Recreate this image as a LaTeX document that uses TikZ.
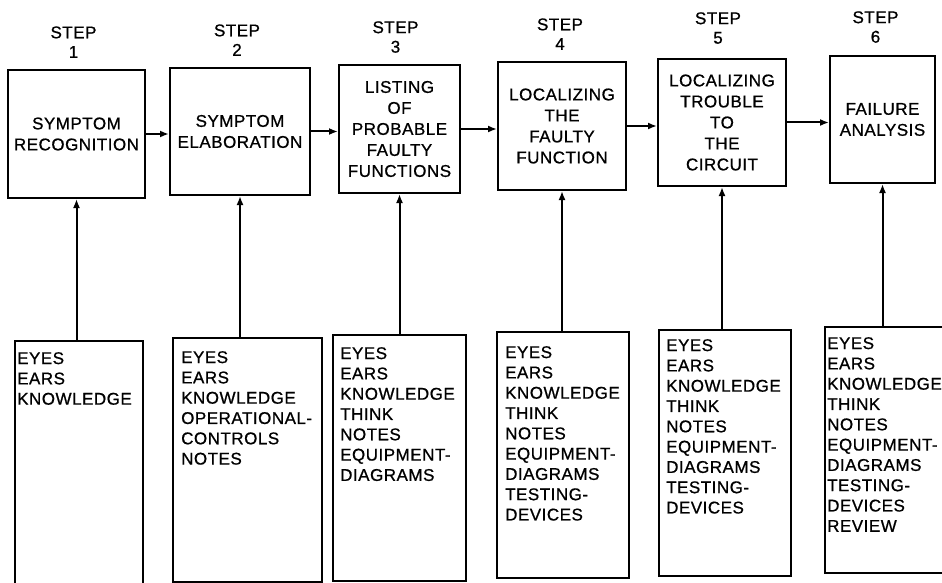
\documentclass[tikz,border=0pt]{standalone}
\usepackage{fontspec}
\setmainfont{Liberation Sans}[LetterSpace=3,FakeBold=0.8]
\usetikzlibrary{arrows.meta,calc}
\tikzset{
  topbox/.style={draw, line width=2pt, inner sep=0pt, align=center,
    font=\fontsize{17}{21}\selectfont},
  botbox/.style={draw, line width=2pt, inner sep=0pt},
  bottext/.style={anchor=north west, inner sep=0pt, align=left,
    font=\fontsize{17}{20.3}\selectfont},
  steplabel/.style={anchor=south, inner sep=0pt, align=center,
    font=\fontsize{17}{19.5}\selectfont},
  flow/.style={line width=2pt, -{Latex[length=9pt,width=7pt]}}
}
\begin{document}
\begin{tikzpicture}[x=1pt,y=-1pt]
\useasboundingbox (0,0) rectangle (942,583);
\begin{scope}
\clip (0,0) rectangle (942,583);
% top boxes
\node[topbox, minimum width=137pt, minimum height=128pt] (t1) at (76.5,134) {SYMPTOM\\RECOGNITION};
\node[topbox, minimum width=140pt, minimum height=127pt] (t2) at (240,131.5) {SYMPTOM\\ELABORATION};
\node[topbox, minimum width=121pt, minimum height=128pt] (t3) at (399.5,129) {LISTING\\OF\\PROBABLE\\FAULTY\\FUNCTIONS};
\node[topbox, minimum width=128pt, minimum height=128pt] (t4) at (562,126) {LOCALIZING\\THE\\FAULTY\\FUNCTION};
\node[topbox, minimum width=128pt, minimum height=127pt] (t5) at (722,122.5) {LOCALIZING\\TROUBLE\\TO\\THE\\CIRCUIT};
\node[topbox, minimum width=105pt, minimum height=127pt] (t6) at (882.5,119.5) {FAILURE\\ANALYSIS};
% step labels
\node[steplabel] (s1) at ($(t1.north)+(-3,-11)$) {STEP\\1};
\node[steplabel] (s2) at ($(t2.north)+(-3,-11)$) {STEP\\2};
\node[steplabel] (s3) at ($(t3.north)+(-4,-11)$) {STEP\\3};
\node[steplabel] (s4) at ($(t4.north)+(-2,-11)$) {STEP\\4};
\node[steplabel] (s5) at ($(t5.north)+(-4,-14)$) {STEP\\5};
\node[steplabel] (s6) at ($(t6.north)+(-7,-12)$) {STEP\\6};
% bottom boxes
\node[botbox, minimum width=128pt, minimum height=270pt] (b1) at (79,476) {};
\node[botbox, minimum width=149pt, minimum height=244pt] (b2) at (247.5,460) {};
\node[botbox, minimum width=133pt, minimum height=246pt] (b3) at (399.5,458) {};
\node[botbox, minimum width=132pt, minimum height=246pt] (b4) at (563,455) {};
\node[botbox, minimum width=132pt, minimum height=246pt] (b5) at (725,453) {};
\node[botbox, minimum width=135pt, minimum height=246pt] (b6) at (892.5,450) {};
% bottom texts
\node[bottext] (l1) at ($(b1.north west)+(3,12)$) {EYES\\EARS\\KNOWLEDGE};
\node[bottext] (l2) at ($(b2.north west)+(9,14)$) {EYES\\EARS\\KNOWLEDGE\\OPERATIONAL-\\CONTROLS\\NOTES};
\node[bottext] (l3) at ($(b3.north west)+(8,13)$) {EYES\\EARS\\KNOWLEDGE\\THINK\\NOTES\\EQUIPMENT-\\DIAGRAMS};
\node[bottext] (l4) at ($(b4.north west)+(9,15)$) {EYES\\EARS\\KNOWLEDGE\\THINK\\NOTES\\EQUIPMENT-\\DIAGRAMS\\TESTING-\\DEVICES};
\node[bottext] (l5) at ($(b5.north west)+(8,10)$) {EYES\\EARS\\KNOWLEDGE\\THINK\\NOTES\\EQUIPMENT-\\DIAGRAMS\\TESTING-\\DEVICES};
\node[bottext] (l6) at ($(b6.north west)+(3,11)$) {EYES\\EARS\\KNOWLEDGE\\THINK\\NOTES\\EQUIPMENT-\\DIAGRAMS\\TESTING-\\DEVICES\\REVIEW};
% vertical arrows
\foreach \i in {1,...,6}{
  \draw[flow] (b\i.north -| t\i.south) -- (t\i.south);
}
% horizontal arrows
\draw[flow] (t1.east) -- (t1.east -| t2.west);
\draw[flow] (t2.east) -- (t2.east -| t3.west);
\draw[flow] (t3.east) -- (t3.east -| t4.west);
\draw[flow] (t4.east) -- (t4.east -| t5.west);
\draw[flow] (t5.east) -- (t5.east -| t6.west);
\end{scope}
\end{tikzpicture}
\end{document}
